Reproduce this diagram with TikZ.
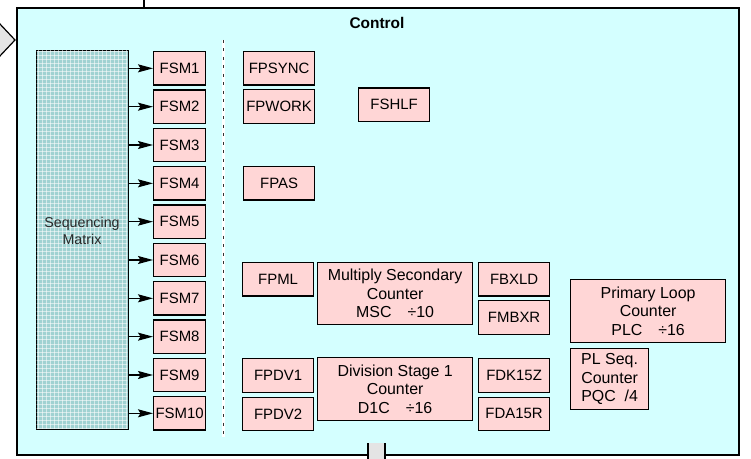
\documentclass[tikz,border=0pt]{standalone}
\usepackage{fontspec}
\setmainfont{Liberation Sans}
\usetikzlibrary{arrows.meta}
\definecolor{ctlbg}{RGB}{212,255,255}
\definecolor{boxpink}{RGB}{255,214,214}
\definecolor{matrixbg}{RGB}{160,210,210}
\definecolor{conngray}{RGB}{228,228,228}
\definecolor{txtgray}{RGB}{40,40,40}
\tikzset{
  pbox/.style={draw=black, fill=boxpink, line width=1.2bp, inner sep=0pt,
    anchor=north west, align=center, font=\fontsize{15}{18.3}\selectfont},
  cbox/.style={pbox, font=\fontsize{16}{18.4}\selectfont},
  fsmbox/.style={pbox, minimum width=52bp, minimum height=33.5bp},
  fbox/.style={pbox, minimum width=71bp, minimum height=33.5bp},
  sarrow/.style={line width=1.3bp, -{Stealth[length=15bp,width=8bp,inset=2.5bp]}},
}
\begin{document}
\begin{tikzpicture}[x=1bp,y=-1bp]
\useasboundingbox (0,0) rectangle (751,459);
% top connector line
\coordinate (topc) at (144,0);
\coordinate (topb) at (144,7);
\draw[line width=1.2bp] (topc) -- (topb);
% main control box
\node[draw=black, fill=ctlbg, line width=1.6bp, anchor=north west, minimum width=722bp, minimum height=447bp, inner sep=0pt] (ctl) at (16,7) {};
\node[font=\bfseries\fontsize{15.5}{17}\selectfont] (title) at (377,23) {Control};
% left chevron
\filldraw[fill=conngray, draw=black, line width=1.2bp] (-1,23) -- (15,40) -- (-1,57);
% bottom connector
\fill[conngray] (368,443) rectangle (385,460);
\draw[line width=1.2bp] (368,443) -- (368,460) (385,443) -- (385,460);
% dashed separator
\coordinate (dtop) at (223.5,40);
\coordinate (dbot) at (223.5,437);
\draw[white, line width=2.5bp] (dtop) -- (dbot);
\draw[black!80, line width=1.2bp, dash pattern=on 3bp off 5.5bp] (dtop) -- (dbot);
% sequencing matrix
\node[draw=black, fill=matrixbg, line width=1.2bp, anchor=north west, minimum width=92bp, minimum height=379bp, inner sep=0pt] (sm) at (36,50) {};
\begin{scope}
\clip (36.6,50.6) rectangle (127.4,428.4);
\foreach \i in {0,...,24} {\draw[white, opacity=0.55, line width=1bp] (38+\i*4,50) -- (38+\i*4,430);}
\foreach \j in {0,...,95} {\draw[white, opacity=0.55, line width=1bp] (36,52+\j*4) -- (128,52+\j*4);}
\end{scope}
\node[align=center, text=txtgray, font=\fontsize{14.3}{17.7}\selectfont] (smlabel) at (82,231) {Sequencing\\Matrix};
% FSM boxes
\foreach \k in {1,...,10} {
  \pgfmathsetmacro{\yy}{51+(\k-1)*38.33}
  \node[fsmbox] (fsm\k) at (153,\yy) {FSM\k};
  \draw[sarrow] (sm.east |- fsm\k.west) -- (fsm\k.west);
}
% right-side flip-flops
\node[fbox] (fpsync) at (243,51) {FPSYNC};
\node[fbox] (fpwork) at (243,89.3) {FPWORK};
\node[fbox] (fshlf) at (358,87.5) {FSHLF};
\node[fbox] (fpas) at (243,166) {FPAS};
\node[fbox] (fpml) at (242,262) {FPML};
\node[cbox, minimum width=155bp, minimum height=62bp] (msc) at (317,262) {Multiply Secondary\\Counter\\MSC\quad ÷10};
\node[fbox] (fbxld) at (478,262) {FBXLD};
\node[fbox] (fmbxr) at (478,300) {FMBXR};
\node[fbox] (fpdv1) at (242,358) {FPDV1};
\node[fbox] (fpdv2) at (242,396.5) {FPDV2};
\node[cbox, minimum width=155bp, minimum height=63bp] (d1c) at (317,357) {Division Stage 1\\Counter\\D1C\quad ÷16};
\node[fbox] (fdk) at (478,358) {FDK15Z};
\node[fbox] (fda) at (478,396.5) {FDA15R};
\node[cbox, minimum width=155bp, minimum height=63bp] (plc) at (570,279) {Primary Loop\\Counter\\PLC\quad ÷16};
\node[cbox, minimum width=78bp, minimum height=61bp] (pqc) at (570,348) {PL Seq.\\Counter\\PQC\ \ /4};
\end{tikzpicture}
\end{document}
